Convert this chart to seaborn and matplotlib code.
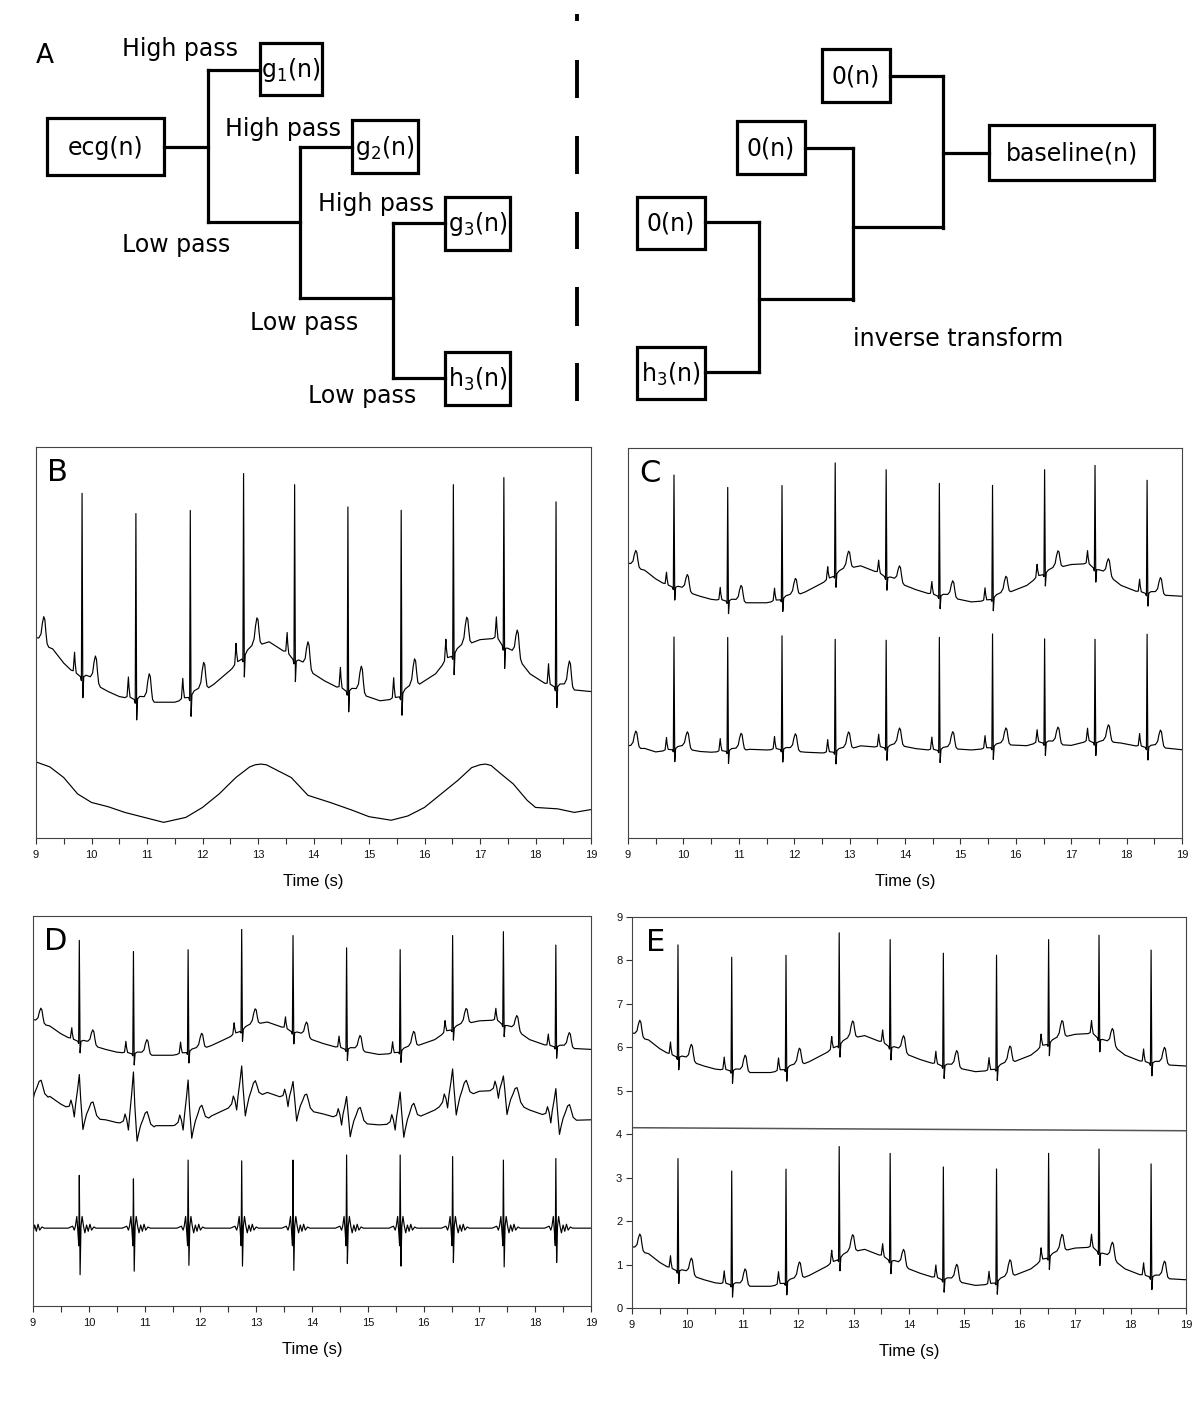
import numpy as np
import matplotlib
matplotlib.use('Agg')
import matplotlib.pyplot as plt
from matplotlib.patches import Rectangle
import seaborn as sns

# ---- values (amplitudes in the units of panel E) ----
# R-peak times (s); the first beat sits just left of the window, its T wave shows at 9.15 s
beat_t = [8.90, 9.83, 10.80, 11.78, 12.74, 13.66, 14.62, 15.58, 16.52, 17.43, 18.37]
r_height = [2.60, 2.59, 2.62, 2.62, 2.59, 2.48, 2.60, 2.61, 2.40, 2.39, 2.61]
mid_height = [1.00, 0.96, 1.34, 1.09, 0.90, 0.55, 0.60, 0.77, 0.79, 0.50, 0.74]
det_up = [1.50, 1.35, 1.26, 1.74, 1.72, 1.74, 1.87, 1.87, 1.83, 1.74, 1.78]
det_down = [1.00, 1.19, 1.10, 0.95, 0.97, 1.08, 0.90, 0.97, 0.88, 0.99, 0.88]

# isoelectric level of the raw ecg
base_t = [9.0, 9.3, 9.5, 9.7, 10.0, 10.3, 10.5, 10.7, 11.0, 11.2, 11.5, 11.7, 12.0, 12.2,
          12.5, 12.7, 13.0, 13.2, 13.5, 13.7, 13.9, 14.2, 14.4, 14.6, 14.9, 15.2, 15.5,
          15.7, 15.9, 16.2, 16.4, 16.6, 16.8, 17.0, 17.3, 17.5, 17.7, 17.9, 18.2, 18.4,
          18.6, 19.0]
base_v = [1.35, 1.25, 1.05, 0.90, 0.78, 0.65, 0.58, 0.55, 0.50, 0.50, 0.50, 0.55, 0.65, 0.75,
          0.95, 1.10, 1.30, 1.35, 1.20, 1.05, 0.95, 0.80, 0.72, 0.65, 0.60, 0.52, 0.55,
          0.65, 0.75, 0.90, 1.10, 1.20, 1.32, 1.38, 1.40, 1.20, 1.10, 0.90, 0.75, 0.70,
          0.68, 0.65]

# estimated baseline wander (lower trace of B)
wander_t = [9.0, 9.25, 9.5, 9.75, 10.0, 10.3, 10.6, 11.0, 11.3, 11.7, 12.0, 12.3, 12.6,
            12.85, 12.95, 13.05, 13.15, 13.3, 13.6, 13.9, 14.3, 14.7, 15.0, 15.4, 15.7,
            16.0, 16.3, 16.6, 16.85, 17.0, 17.1, 17.2, 17.35, 17.6, 17.85, 18.0, 18.4,
            18.7, 19.0]
wander_v = [-0.34, -0.41, -0.56, -0.79, -0.91, -0.97, -1.05, -1.13, -1.19, -1.12, -0.98,
            -0.79, -0.56, -0.41, -0.38, -0.37, -0.38, -0.44, -0.56, -0.81, -0.91, -1.02,
            -1.11, -1.16, -1.10, -0.98, -0.79, -0.60, -0.42, -0.38, -0.37, -0.39, -0.49,
            -0.65, -0.88, -0.98, -1.00, -1.05, -1.01]

# one beat around its R peak: offset (s) -> amplitude
ecg_off = [-0.20, -0.16, -0.145, -0.135, -0.125, -0.105, -0.03, -0.012, 0.014, 0.03, 0.07,
           0.15, 0.19, 0.215, 0.24, 0.26, 0.28, 0.30, 0.33, 0.37]
ecg_val = [0.0, 0.02, 0.18, 0.30, 0.16, 0.02, 0.0, -0.05, -0.28, 0.02, 0.06,
           0.07, 0.14, 0.30, 0.40, 0.36, 0.18, 0.04, 0.0, 0.0]
# low-pass approximation (D, middle): broader QRS, R part scaled by mid_height
mid_off = [-0.24, -0.18, -0.15, -0.12, -0.09, 0.065, 0.09, 0.13, 0.17, 0.21, 0.245,
           0.275, 0.31, 0.37]
mid_val = [0.0, 0.06, 0.24, 0.10, -0.16, -0.42, -0.24, 0.0, 0.15, 0.32, 0.36,
           0.22, 0.04, -0.03]
mid_r_off = [-0.065, -0.03, 0.0, 0.025]
mid_r_frac = [0.2, 0.6, 1.0, 0.35]
# detail coefficients (D, bottom)
det_off = [-0.20, -0.12, -0.09, -0.07, -0.045, -0.025, -0.01, 0.03, 0.05, 0.075, 0.10,
           0.13, 0.16, 0.19, 0.22, 0.26, 0.30]
det_val = [0.0, 0.05, -0.05, 0.05, 0.30, -0.10, -0.45, 0.05, 0.30, 0.05, -0.12,
           0.08, -0.08, 0.10, -0.05, 0.03, 0.0]

line_t = [9.0, 19.0]
line_v = [4.15, 4.08]
time_ticks = list(range(9, 20))
e_yticks = list(range(0, 10))

W, H = 1200, 1407


def build(off, val, spikes, level_t, level_v):
    # vertices of a trace: beat shapes laid on a level, plus the level knots in between
    tt, vv = [], []
    for i, tb in enumerate(beat_t):
        o = list(off) + [s for s, _ in spikes]
        v = list(val) + [amp[i] for _, amp in spikes]
        for k in np.argsort(o):
            tt.append(tb + o[k])
            vv.append(v[k])
    lo = np.array(beat_t) + min(off)
    hi = np.array(beat_t) + max(off)
    for kt in level_t:
        if not np.any((kt >= lo) & (kt <= hi)):
            tt.append(kt)
            vv.append(0.0)
    tt = np.array(tt)
    vv = np.array(vv)
    order = np.argsort(tt)
    tt, vv = tt[order], vv[order]
    return tt, vv + np.interp(tt, level_t, level_v)


ecg_t, ecg_v = build(ecg_off, ecg_val, [(0.0, r_height)], base_t, base_v)
resid = np.array(base_v) - np.interp(base_t, wander_t, wander_v) - 1.70
cor_t, cor_v = build(ecg_off, ecg_val, [(0.0, r_height)], base_t, resid)
mid_spikes = [(o, [f * h for h in mid_height]) for o, f in zip(mid_r_off, mid_r_frac)]
mid_t, mid_v = build(mid_off, mid_val, mid_spikes, base_t, np.array(base_v) - 1.80)
det_t, det_v = build(det_off, det_val, [(0.0, det_up), (0.014, [-d for d in det_down])],
                     [9.0, 19.0], [-3.92, -3.92])

sns.set_style('white')
plt.rcParams['font.family'] = ['DejaVu Sans']
plt.rcParams['text.color'] = 'black'
fig = plt.figure(figsize=(W / 100, H / 100), dpi=100)


def px_axes(l, t, r, b):
    return fig.add_axes([l / W, 1 - b / H, (r - l) / W, (b - t) / H])


def trace(ax, t, v, lw=0.85, color='black'):
    sns.lineplot(x=t, y=v, ax=ax, color=color, lw=lw, estimator=None, sort=False)


def style_panel(ax, letter, ylim, yticks=None):
    ax.set_xlim(9, 19)
    ax.set_ylim(*ylim)
    ax.set_xticks(time_ticks)
    ax.set_xticklabels([str(x) for x in time_ticks], family='Liberation Sans', fontsize=8,
                       color='#111')
    ax.set_xticks(np.arange(9.5, 19, 1.0), minor=True)
    ax.tick_params(axis='x', which='both', direction='out', length=4, width=0.8,
                   color='#333', pad=4.5, bottom=True)
    if yticks is None:
        ax.set_yticks([])
    else:
        ax.set_yticks(yticks)
        ax.set_yticklabels([str(y) for y in yticks], family='Liberation Sans', fontsize=8,
                           color='#111')
        ax.tick_params(axis='y', direction='out', length=4, width=0.8, color='#333',
                       pad=3, left=True)
    ax.set_xlabel('Time (s)', family='Liberation Sans', fontsize=12, color='black',
                  labelpad=10)
    ax.set_ylabel('')
    for sp in ax.spines.values():
        sp.set_color('#444')
        sp.set_linewidth(0.8)
    ax.text(0.02, 0.972, letter, transform=ax.transAxes, fontsize=22, va='top', ha='left',
            color='black')


# ---- panel A: decomposition / reconstruction scheme ----
axa = fig.add_axes([0, 1 - 420 / H, 1, 420 / H])
axa.set_xlim(0, W)
axa.set_ylim(420, 0)
axa.axis('off')

LW = 2.3


def box(x0, y0, x1, y1, label):
    axa.add_patch(Rectangle((x0, y0), x1 - x0, y1 - y0, fill=False, lw=LW, ec='black'))
    axa.text((x0 + x1) / 2, (y0 + y1) / 2 + 1, label, fontsize=17, ha='center', va='center',
             color='black')


def seg(xs, ys):
    axa.plot(xs, ys, color='black', lw=LW, solid_capstyle='projecting')


axa.text(36, 56, 'A', fontsize=19, ha='left', va='center', color='black')
box(47, 118, 164, 175, 'ecg(n)')
box(260, 43, 322, 95, 'g$_1$(n)')
box(352, 120, 418, 173, 'g$_2$(n)')
box(445, 197, 510, 250, 'g$_3$(n)')
box(445, 352, 510, 405, 'h$_3$(n)')
seg([164, 208], [147, 147])
seg([208, 208], [70, 222])
seg([208, 260], [70, 70])
seg([208, 300], [222, 222])
seg([300, 300], [147, 298])
seg([300, 352], [147, 147])
seg([300, 393], [298, 298])
seg([393, 393], [223, 378])
seg([393, 445], [223, 223])
seg([393, 445], [378, 378])
for x, y, s in [(122, 49, 'High pass'), (122, 245, 'Low pass'), (225, 129, 'High pass'),
                (250, 323, 'Low pass'), (318, 204, 'High pass'), (308, 396, 'Low pass')]:
    axa.text(x, y, s, fontsize=17, ha='left', va='center', color='black')

for y0, y1 in [(14, 21), (60, 98), (136, 174), (212, 249), (287, 326), (363, 401)]:
    axa.plot([577, 577], [y0, y1], color='black', lw=2.8, solid_capstyle='butt')

box(822, 49, 890, 102, '0(n)')
box(737, 121, 805, 174, '0(n)')
box(637, 197, 705, 249, '0(n)')
box(637, 347, 705, 399, 'h$_3$(n)')
box(989, 125, 1154, 180, 'baseline(n)')
seg([890, 943], [76, 76])
seg([943, 943], [76, 228])
seg([943, 989], [153, 153])
seg([805, 853], [148, 148])
seg([853, 853], [148, 300])
seg([853, 943], [227, 227])
seg([705, 759], [222, 222])
seg([759, 759], [222, 372])
seg([705, 759], [372, 372])
seg([759, 853], [299, 299])
axa.text(853, 339, 'inverse transform', fontsize=17, ha='left', va='center', color='black')

# ---- panel B: raw ecg and estimated baseline wander ----
axb = px_axes(36, 447, 591, 838)
trace(axb, ecg_t, ecg_v)
trace(axb, np.array(wander_t), np.array(wander_v))
style_panel(axb, 'B', (-1.41, 4.09))

# ---- panel C: raw and corrected ecg ----
axc = px_axes(628, 448, 1182, 838)
trace(axc, ecg_t, ecg_v)
trace(axc, cor_t, cor_v - 2.84)
style_panel(axc, 'C', (-4.91, 4.06))

# ---- panel D: raw, approximation, detail ----
axd = px_axes(33, 916, 591, 1306)
trace(axd, ecg_t, ecg_v)
trace(axd, mid_t, mid_v)
trace(axd, det_t, det_v)
style_panel(axd, 'D', (-5.91, 4.06))

# ---- panel E: with amplitude axis ----
axe = px_axes(632, 917, 1186, 1308)
trace(axe, ecg_t, ecg_v + 4.92)
trace(axe, np.array(line_t), np.array(line_v), lw=1.1, color='#555')
trace(axe, ecg_t, ecg_v)
style_panel(axe, 'E', (0, 9), yticks=e_yticks)
axe.texts[-1].set_x(0.025)

fig.savefig('out.png', dpi=100, facecolor='white')
